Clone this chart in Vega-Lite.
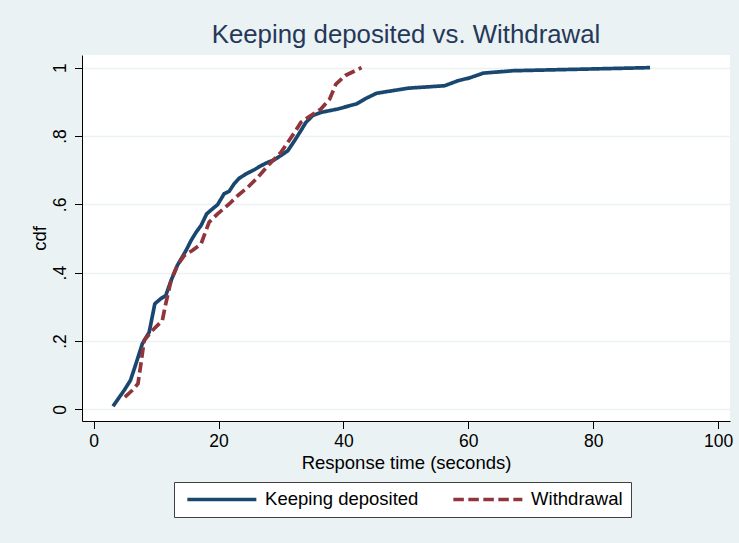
{
  "$schema": "https://vega.github.io/schema/vega-lite/v6.json",
  "autosize": {"type": "none"},
  "width": 648,
  "height": 366,
  "padding": {"left": 82, "top": 55, "right": 9, "bottom": 122},
  "background": "#EAF2F3",
  "title": {
    "text": "Keeping deposited vs. Withdrawal",
    "font": "Liberation Sans",
    "fontSize": 25.8,
    "fontWeight": "normal",
    "color": "#263859",
    "anchor": "middle",
    "baseline": "alphabetic",
    "offset": 11.7,
    "dy": 25
  },
  "data": {
    "values": [
      {"t": 3.1, "cdf": 0.009, "group": "Keeping deposited"},
      {"t": 4.9, "cdf": 0.056, "group": "Keeping deposited"},
      {"t": 5.9, "cdf": 0.085, "group": "Keeping deposited"},
      {"t": 6.7, "cdf": 0.129, "group": "Keeping deposited"},
      {"t": 7.8, "cdf": 0.192, "group": "Keeping deposited"},
      {"t": 8.9, "cdf": 0.226, "group": "Keeping deposited"},
      {"t": 9.8, "cdf": 0.309, "group": "Keeping deposited"},
      {"t": 10.75, "cdf": 0.324, "group": "Keeping deposited"},
      {"t": 11.55, "cdf": 0.333, "group": "Keeping deposited"},
      {"t": 12.4, "cdf": 0.377, "group": "Keeping deposited"},
      {"t": 13.4, "cdf": 0.421, "group": "Keeping deposited"},
      {"t": 14.8, "cdf": 0.465, "group": "Keeping deposited"},
      {"t": 15.6, "cdf": 0.494, "group": "Keeping deposited"},
      {"t": 16.4, "cdf": 0.518, "group": "Keeping deposited"},
      {"t": 17.2, "cdf": 0.538, "group": "Keeping deposited"},
      {"t": 18.1, "cdf": 0.572, "group": "Keeping deposited"},
      {"t": 19.05, "cdf": 0.587, "group": "Keeping deposited"},
      {"t": 19.85, "cdf": 0.599, "group": "Keeping deposited"},
      {"t": 20.9, "cdf": 0.631, "group": "Keeping deposited"},
      {"t": 21.7, "cdf": 0.638, "group": "Keeping deposited"},
      {"t": 22.5, "cdf": 0.66, "group": "Keeping deposited"},
      {"t": 23.3, "cdf": 0.676, "group": "Keeping deposited"},
      {"t": 24.4, "cdf": 0.689, "group": "Keeping deposited"},
      {"t": 25.7, "cdf": 0.701, "group": "Keeping deposited"},
      {"t": 26.8, "cdf": 0.713, "group": "Keeping deposited"},
      {"t": 27.9, "cdf": 0.723, "group": "Keeping deposited"},
      {"t": 28.9, "cdf": 0.73, "group": "Keeping deposited"},
      {"t": 30.0, "cdf": 0.743, "group": "Keeping deposited"},
      {"t": 31.1, "cdf": 0.757, "group": "Keeping deposited"},
      {"t": 32.2, "cdf": 0.787, "group": "Keeping deposited"},
      {"t": 33.2, "cdf": 0.816, "group": "Keeping deposited"},
      {"t": 34.0, "cdf": 0.84, "group": "Keeping deposited"},
      {"t": 35.1, "cdf": 0.86, "group": "Keeping deposited"},
      {"t": 36.4, "cdf": 0.869, "group": "Keeping deposited"},
      {"t": 39.1, "cdf": 0.879, "group": "Keeping deposited"},
      {"t": 42.1, "cdf": 0.894, "group": "Keeping deposited"},
      {"t": 43.4, "cdf": 0.908, "group": "Keeping deposited"},
      {"t": 45.3, "cdf": 0.925, "group": "Keeping deposited"},
      {"t": 50.4, "cdf": 0.94, "group": "Keeping deposited"},
      {"t": 56.2, "cdf": 0.947, "group": "Keeping deposited"},
      {"t": 58.4, "cdf": 0.962, "group": "Keeping deposited"},
      {"t": 60.2, "cdf": 0.97, "group": "Keeping deposited"},
      {"t": 62.4, "cdf": 0.984, "group": "Keeping deposited"},
      {"t": 67.2, "cdf": 0.991, "group": "Keeping deposited"},
      {"t": 89.1, "cdf": 1.0, "group": "Keeping deposited"},
      {"t": 5.0, "cdf": 0.036, "group": "Withdrawal"},
      {"t": 6.2, "cdf": 0.056, "group": "Withdrawal"},
      {"t": 7.1, "cdf": 0.075, "group": "Withdrawal"},
      {"t": 7.5, "cdf": 0.124, "group": "Withdrawal"},
      {"t": 8.1, "cdf": 0.202, "group": "Withdrawal"},
      {"t": 9.4, "cdf": 0.231, "group": "Withdrawal"},
      {"t": 11.0, "cdf": 0.26, "group": "Withdrawal"},
      {"t": 11.55, "cdf": 0.309, "group": "Withdrawal"},
      {"t": 12.4, "cdf": 0.377, "group": "Withdrawal"},
      {"t": 13.4, "cdf": 0.421, "group": "Withdrawal"},
      {"t": 14.5, "cdf": 0.45, "group": "Withdrawal"},
      {"t": 15.8, "cdf": 0.465, "group": "Withdrawal"},
      {"t": 17.2, "cdf": 0.484, "group": "Withdrawal"},
      {"t": 18.5, "cdf": 0.548, "group": "Withdrawal"},
      {"t": 19.85, "cdf": 0.572, "group": "Withdrawal"},
      {"t": 21.7, "cdf": 0.601, "group": "Withdrawal"},
      {"t": 23.1, "cdf": 0.626, "group": "Withdrawal"},
      {"t": 24.7, "cdf": 0.65, "group": "Withdrawal"},
      {"t": 26.3, "cdf": 0.679, "group": "Withdrawal"},
      {"t": 27.9, "cdf": 0.713, "group": "Withdrawal"},
      {"t": 30.0, "cdf": 0.752, "group": "Withdrawal"},
      {"t": 31.3, "cdf": 0.787, "group": "Withdrawal"},
      {"t": 32.2, "cdf": 0.811, "group": "Withdrawal"},
      {"t": 33.2, "cdf": 0.84, "group": "Withdrawal"},
      {"t": 34.8, "cdf": 0.86, "group": "Withdrawal"},
      {"t": 36.4, "cdf": 0.879, "group": "Withdrawal"},
      {"t": 37.8, "cdf": 0.908, "group": "Withdrawal"},
      {"t": 38.8, "cdf": 0.952, "group": "Withdrawal"},
      {"t": 40.3, "cdf": 0.977, "group": "Withdrawal"},
      {"t": 42.9, "cdf": 1.0, "group": "Withdrawal"}
    ]
  },
  "mark": {"type": "line", "strokeWidth": 3.7, "strokeCap": "butt", "strokeJoin": "round"},
  "encoding": {
    "x": {
      "field": "t",
      "type": "quantitative",
      "scale": {"domain": [-1.86, 101.9], "nice": false, "zero": false},
      "axis": {
        "title": "Response time (seconds)",
        "values": [0, 20, 40, 60, 80, 100],
        "grid": false,
        "titleY": 47,
        "titleBaseline": "alphabetic"
      }
    },
    "y": {
      "field": "cdf",
      "type": "quantitative",
      "scale": {"domain": [-0.034, 1.037], "nice": false, "zero": false},
      "axis": {
        "title": "cdf",
        "values": [0, 0.2, 0.4, 0.6, 0.8, 1],
        "labelExpr": "datum.value == 0 ? '0' : datum.value == 1 ? '1' : '.' + format(datum.value * 10, 'd')",
        "labelAngle": -90,
        "labelAlign": "center",
        "labelBaseline": "alphabetic",
        "labelPadding": 9,
        "grid": true,
        "gridColor": "#EAF2F3",
        "gridWidth": 1.5,
        "titleAngle": -90,
        "titleAlign": "center",
        "titleBaseline": "alphabetic",
        "titleX": -37,
        "titleY": 183
      }
    },
    "color": {
      "field": "group",
      "type": "nominal",
      "scale": {"domain": ["Keeping deposited", "Withdrawal"], "range": ["#1A476F", "#90353B"]},
      "legend": {"title": null, "labelExpr": "datum.label + ' '"}
    },
    "strokeDash": {
      "field": "group",
      "type": "nominal",
      "scale": {"domain": ["Keeping deposited", "Withdrawal"], "range": [[1, 0], [10.5, 4.5]]},
      "legend": {"title": null, "labelExpr": "datum.label + ' '"}
    }
  },
  "config": {
    "font": "Liberation Sans",
    "view": {"fill": "white", "stroke": null},
    "axis": {
      "domainColor": "#000000",
      "domainWidth": 1,
      "tickColor": "#000000",
      "tickSize": 7.5,
      "tickWidth": 1,
      "labelColor": "#000000",
      "labelFontSize": 17.5,
      "labelFont": "Liberation Sans",
      "titleColor": "#000000",
      "titleFontSize": 18.5,
      "titleFont": "Liberation Sans",
      "titleFontWeight": "normal",
      "labelPadding": 3.5
    },
    "legend": {
      "orient": "none",
      "legendX": 92,
      "legendY": 427,
      "direction": "horizontal",
      "fillColor": "white",
      "strokeColor": "#404040",
      "padding": 8,
      "symbolType": "M-7,0H7",
      "symbolSize": 97.2,
      "symbolOffset": 30.6,
      "symbolStrokeWidth": 3.5,
      "labelFontSize": 18.5,
      "labelFont": "Liberation Sans",
      "labelColor": "#000000",
      "labelOffset": 34,
      "columnPadding": 27
    }
  }
}
